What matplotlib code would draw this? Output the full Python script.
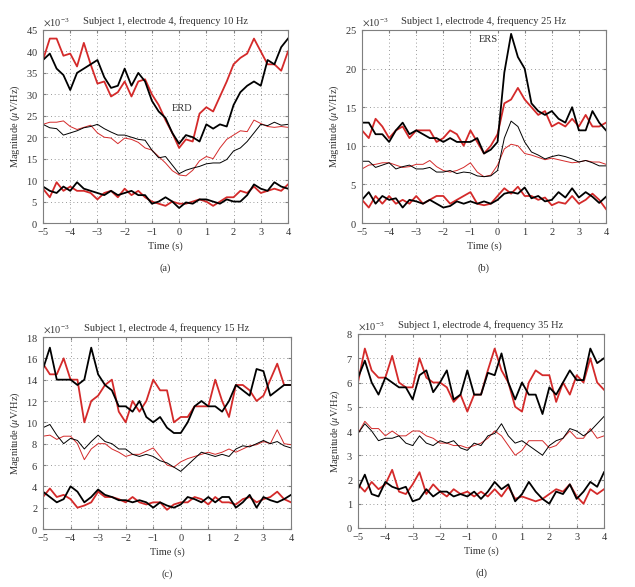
import numpy as np
import matplotlib
matplotlib.use("Agg")
import matplotlib.pyplot as plt
from matplotlib.ticker import ScalarFormatter

plt.rcParams['font.family'] = ['Liberation Serif', 'DejaVu Serif']
plt.rcParams['mathtext.fontset'] = 'stix'
plt.rcParams['axes.unicode_minus'] = True

# time axis (s), one reading every 0.25 s
t = np.arange(-5, 4.01, 0.25)

# ---- (a) 10 Hz ----
a_red_hi = [38, 43, 43, 39, 39.5, 36.5, 42, 37, 32.5, 33, 29.5, 30.5, 33, 29.5, 33, 33.5, 30, 27.5, 24, 21,
            17.5, 19.5, 19, 25.5, 27, 26, 29.5, 33, 37, 38.5, 39.5, 43, 40, 37, 37, 35.5, 40]
a_blk_hi = [38, 39.5, 36, 34.5, 31, 35, 36, 37, 38, 34, 31.5, 32, 36, 32, 35, 33, 28.5, 26, 24.5, 21,
            18.5, 20.5, 20, 19, 23, 22, 23, 22.5, 27.5, 30.5, 32, 33, 32, 38, 37, 41, 43]
a_red_mid = [23, 23.5, 23.5, 23.8, 22.5, 21.8, 22.3, 22.8, 21, 20, 19.8, 18.5, 19.8, 19.5, 18.8, 17.5, 17, 15.5, 14, 12.2,
             11.2, 11.0, 12.3, 14.5, 15.5, 15, 17.5, 19.5, 20.5, 21.5, 21.3, 24, 23.2, 22.5, 22.3, 22.5, 22.3]
a_blk_mid = [23, 22.2, 22, 20.5, 21, 21.5, 22.2, 22.5, 23, 22, 21.2, 20.5, 20.5, 20, 19.5, 19.3, 17, 15.2, 15.5, 13.5,
             11.5, 12.3, 12.8, 13.2, 13.8, 14, 14, 14.8, 16.8, 17.5, 19, 21, 23, 22.7, 23.5, 22.8, 23]
a_red_lo = [8, 6, 9.5, 7.5, 8.5, 7.5, 7.5, 7, 5.5, 7, 7.5, 6, 8, 6.5, 7.5, 6, 5, 4.5, 4, 5,
            4.5, 4.5, 5, 5.5, 5, 4, 5, 6, 6, 7.5, 7, 8.5, 7, 7.5, 8, 7.5, 9]
a_blk_lo = [8.5, 7.5, 7, 8.5, 7.5, 9.5, 8, 7.5, 7, 6.5, 7.5, 6.5, 7, 7.5, 6.5, 6.5, 4.5, 5, 6, 5,
            3.5, 4.8, 4.5, 5.5, 5.5, 5, 4.5, 5.5, 5, 5, 6.5, 9, 8, 7.5, 9.5, 8.5, 8]

# ---- (b) 25 Hz ----
b_red_hi = [12, 11, 13.5, 12.5, 11, 12, 12.5, 11, 12, 12, 12, 10.5, 11, 12, 11.5, 10, 12, 10.5, 9, 10,
            11.5, 15.5, 16, 17.5, 16, 15, 14, 14.5, 12.5, 13, 12.5, 13.5, 12.5, 14, 12.5, 12.5, 13]
b_blk_hi = [13, 13, 11.5, 11.5, 10.5, 12, 13, 11.5, 12, 11.5, 11, 11, 10.5, 11, 10.5, 10.5, 10.5, 11, 9, 9.5,
            10.5, 19.5, 24.5, 21.5, 20, 15.5, 14.5, 14, 14.5, 13.5, 13, 15, 12, 12, 14.5, 13, 12]
b_red_mid = [7.0, 7.5, 7.6, 7.8, 7.8, 7.5, 7.2, 7.3, 7.6, 7.6, 8.1, 7.3, 6.8, 6.6, 6.8, 7.2, 7.8, 6.6, 6.0, 6.2,
             7.5, 9.6, 10.2, 10.0, 9.0, 8.8, 8.5, 8.2, 8.4, 8.2, 8.0, 7.8, 7.9, 8.1, 7.9, 7.9, 7.6]
b_blk_mid = [8, 8, 7.2, 7.5, 7.8, 7, 7.3, 7.5, 7, 7, 7.2, 6.6, 6.6, 6.8, 6.4, 6.6, 6.5, 6.1, 6.0, 6.1,
             6.8, 11, 13.2, 12.5, 10.5, 9.2, 8.8, 8.3, 8.6, 8.8, 8.6, 8.3, 7.9, 8.1, 7.8, 7.4, 7.4]
b_red_lo = [3, 2, 3.5, 2.5, 3.5, 2.5, 3, 2.5, 3.5, 2.5, 3, 3.5, 3.5, 2.5, 3, 3.5, 4, 2.5, 2.3, 2.5,
            3.5, 4.5, 3.8, 4.7, 3.5, 3.5, 3, 3.3, 2.3, 2.7, 2.5, 3.5, 2.5, 3, 3.8, 3, 1.8]
b_blk_lo = [3, 4, 2.5, 3.5, 3, 3.2, 2, 3, 2.8, 2.5, 3, 2.5, 2, 2.2, 2.8, 2.5, 2.8, 2.5, 2.8, 2.5,
            3, 3.8, 4, 3.8, 4.6, 3.2, 3.5, 2.8, 3, 4, 3.3, 4.5, 3.3, 4, 3.4, 2.6, 3.4]

# ---- (c) 15 Hz ----
c_red_hi = [15.5, 14.5, 14.5, 16, 14, 14, 10, 12, 12.5, 13.5, 14, 11, 10, 12, 11, 12, 14, 13, 13, 10,
            10.5, 10.5, 11.5, 11.5, 11.5, 14, 12, 10.5, 13.5, 13.5, 13, 12, 12.5, 14, 15.5, 13.5, 13.5]
c_blk_hi = [15, 17, 14, 14, 14, 13.5, 14, 17, 14.5, 13.5, 13, 11.5, 11.5, 11, 12, 10.5, 10, 10.5, 9.5, 9,
            9, 10, 11.5, 12, 11.5, 11.5, 11, 12, 13.5, 13, 12.5, 15, 14.8, 12.5, 13, 13.5, 13.5]
c_red_mid = [8.7, 8.8, 8.4, 8.7, 8.7, 8, 6.5, 7.5, 8, 8, 7.5, 7.2, 6.8, 7, 7, 7.3, 7.6, 6.8, 6, 5.8,
             6.3, 6.6, 6.8, 7, 7.2, 7, 7.2, 7.5, 7.2, 7.5, 7.8, 7.9, 8.2, 8, 9.3, 8, 7.9]
c_blk_mid = [9.5, 9.8, 8.8, 8, 8.5, 8.3, 7.5, 8.2, 8.8, 8.2, 8, 7.5, 7.5, 7, 6.8, 7, 6.8, 6.4, 6.2, 5.8,
             5.4, 6, 6.6, 7.2, 7, 6.8, 7, 6.8, 7.5, 7.8, 7.7, 8, 8.3, 8, 8.2, 7.8, 7.6]
c_red_lo = [3, 3.8, 3, 3.2, 2.8, 2, 2.2, 2.5, 3.5, 3, 3, 2.8, 2.5, 3, 2.5, 2.3, 2.5, 2.5, 1.8, 2.3,
            2.5, 2.5, 3, 2.8, 2.3, 3, 2.5, 2.5, 2.3, 2.8, 3, 2.5, 2.8, 3, 3.5, 2.8, 2.5]
c_blk_lo = [3.5, 3, 2.5, 2.8, 4, 3.5, 2.5, 3, 3.7, 3.2, 3, 2.7, 2.7, 2.5, 2.7, 2.5, 2, 2.5, 2.2, 2,
            2.3, 3, 2.8, 2.5, 3, 2.5, 3, 3, 2, 2.5, 3.2, 2, 3, 2.7, 2.5, 2.8, 3.2]

# ---- (d) 35 Hz ----
d_red_hi = [6, 7.4, 6.5, 6.2, 6.2, 7.1, 6, 5.8, 5.8, 7, 6.2, 6, 6, 5.8, 5.2, 5.5, 4.8, 5.5, 5.5, 6.5,
            7.4, 6.5, 6, 5, 4.8, 6, 6.5, 6.3, 6.3, 5.2, 6, 5.5, 6.3, 6, 7, 6, 5.7]
d_blk_hi = [6.2, 6.9, 6, 5.5, 6.2, 6, 5.8, 5.8, 5.3, 6.3, 6.5, 5.6, 6, 6.5, 5.3, 5.5, 6.5, 5.5, 5.5, 6.4,
            6.3, 7.2, 6, 5.3, 6, 5.5, 5.5, 4.7, 5.8, 5.5, 6, 6.5, 6.1, 6.1, 7.4, 6.8, 7]
d_red_mid = [3.9, 4.4, 4.1, 4.1, 3.8, 4, 3.8, 3.8, 4, 4, 3.8, 3.7, 3.5, 3.5, 3.4, 3.4, 3.3, 3.4, 3.5, 3.7,
             4, 3.8, 3.4, 3.0, 3.2, 3.6, 3.6, 3.6, 3.3, 3.4, 3.7, 4, 3.7, 3.7, 4.1, 3.7, 3.8]
d_blk_mid = [3.9, 4.3, 4, 3.6, 3.7, 3.7, 3.8, 3.5, 3.4, 3.8, 3.5, 3.4, 3.6, 3.5, 3.6, 3.3, 3.2, 3.5, 3.4, 3.8,
             3.9, 4.3, 3.8, 3.5, 3.6, 3.4, 3.2, 3.0, 3.4, 3.6, 3.7, 4.1, 4, 3.8, 4.0, 4.3, 4.6]
d_red_lo = [1.8, 1.5, 1.9, 1.6, 1.8, 2.4, 1.5, 1.4, 1.8, 2.3, 1.4, 1.8, 1.5, 1.3, 1.6, 1.4, 1.5, 1.3, 1.5, 1.3,
            1.6, 1.3, 1.7, 1.2, 1.3, 1.2, 1.1, 1.2, 1.4, 1.6, 1.5, 1.8, 1.3, 1.0, 1.6, 1.4, 1.6]
d_blk_lo = [1.6, 2.2, 1.4, 1.3, 1.9, 1.7, 1.6, 1.7, 1.1, 1.2, 1.6, 1.3, 1.5, 1.5, 1.3, 1.4, 1.3, 1.5, 1.2, 1.5,
            1.9, 1.6, 1.8, 1.1, 1.4, 1.9, 1.5, 1.2, 1.0, 1.5, 1.4, 1.8, 1.2, 1.5, 1.9, 1.7, 2.3]

RED = '#d42a2a'
GRAY = '#7f7f7f'
TXT = '#333333'
FS = 7.5

panels = [
    # rect, freq, ymax, label, series, annotation
    ([43/635, 1-223/587, 245/635, 193/587], 10, 45, '(a)',
     [a_red_hi, a_blk_hi, a_red_mid, a_blk_mid, a_red_lo, a_blk_lo], ('ERD', 0.1, 26.6)),
    ([362/635, 1-223/587, 244/635, 193/587], 25, 25, '(b)',
     [b_red_hi, b_blk_hi, b_red_mid, b_blk_mid, b_red_lo, b_blk_lo], ('ERS', -0.35, 23.8)),
    ([43/635, 1-529/587, 248/635, 192/587], 15, 18, '(c)',
     [c_red_hi, c_blk_hi, c_red_mid, c_blk_mid, c_red_lo, c_blk_lo], None),
    ([358/635, 1-528/587, 246/635, 194/587], 35, 8, '(d)',
     [d_red_hi, d_blk_hi, d_red_mid, d_blk_mid, d_red_lo, d_blk_lo], None),
]

fig = plt.figure(figsize=(6.35, 5.87), dpi=100)

for rect, freq, ymax, lab, series, note in panels:
    ax = fig.add_axes(rect)
    red_hi, blk_hi, red_mid, blk_mid, red_lo, blk_lo = series
    s = 1e-3
    ax.plot(t, np.array(red_mid) * s, color=RED, lw=0.7)
    ax.plot(t, np.array(blk_mid) * s, color='black', lw=0.7)
    ax.plot(t, np.array(red_hi) * s, color=RED, lw=1.3)
    ax.plot(t, np.array(blk_hi) * s, color='black', lw=1.3)
    ax.plot(t, np.array(red_lo) * s, color=RED, lw=1.3)
    ax.plot(t, np.array(blk_lo) * s, color='black', lw=1.3)

    ax.set_xlim(-5, 4)
    ax.set_ylim(0, ymax * s)
    ax.set_xticks(range(-5, 5))
    fmt = ScalarFormatter(useMathText=True)
    fmt.set_powerlimits((-3, -3))
    ax.yaxis.set_major_formatter(fmt)
    ax.yaxis.get_offset_text().set_fontsize(FS)
    ax.yaxis.get_offset_text().set_color(TXT)

    ax.grid(True, linestyle=(0, (1, 3.5)), color='#777777', lw=0.6)
    for sp in ax.spines.values():
        sp.set_color(GRAY)
        sp.set_linewidth(0.8)
    ax.tick_params(direction='in', length=2.5, labelsize=FS, colors=GRAY,
                   labelcolor=TXT, top=True, right=True)

    ax.set_title('Subject 1, electrode 4, frequency %d Hz' % freq, fontsize=FS, color=TXT, pad=4)
    ax.set_xlabel('Time (s)', fontsize=FS, color=TXT, labelpad=3)
    ax.set_ylabel(r'Magnitude ($\mu$V/Hz)', fontsize=FS, color=TXT, labelpad=3)

    if note is not None:
        ax.text(note[1], note[2] * s, note[0], fontsize=FS, color=TXT, ha='center', va='center')

    x0, y0, w, h = rect
    fig.text(x0 + w / 2, y0 - 45 / 587, lab, fontsize=FS, color=TXT, ha='center', va='center')

fig.savefig('out.png', dpi=100)
